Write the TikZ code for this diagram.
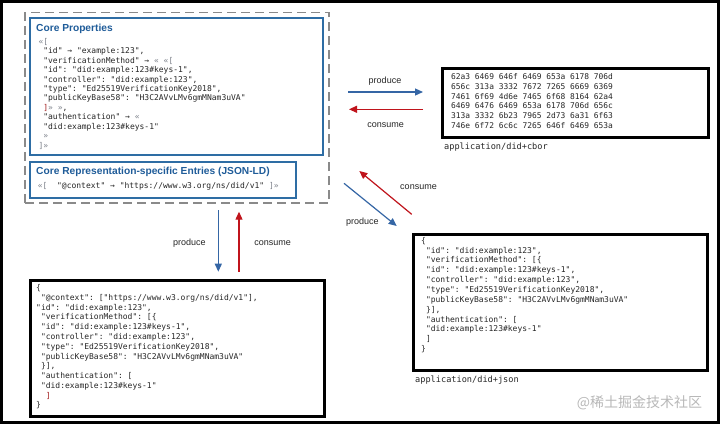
\documentclass[tikz,border=0pt]{standalone}
\usepackage{fontspec}
\setmainfont{Liberation Sans}
\setmonofont{DejaVu Sans Mono}
\newfontfamily\cjkfont{Noto Sans CJK SC}
\usetikzlibrary{arrows.meta}
\definecolor{titleblue}{HTML}{1F5C99}
\definecolor{boxblue}{HTML}{2E6DA4}
\definecolor{arrblue}{HTML}{3566A5}
\definecolor{arrred}{HTML}{C0141C}
\definecolor{codered}{HTML}{A01818}
\definecolor{codetext}{HTML}{262626}
\definecolor{guil}{HTML}{7A7F88}
\definecolor{dashgrey}{HTML}{8A8A8A}
\newcommand{\gq}[1]{\textcolor{guil}{#1}}
\newcommand{\rd}[1]{\textcolor{codered}{#1}}
\begin{document}
\begin{tikzpicture}[x=1pt,y=-1pt,
  bluebox/.style={draw=boxblue,line width=1.8pt,inner sep=0pt,anchor=north west},
  blackbox/.style={draw=black,line width=2.8pt,inner sep=0pt,anchor=north west},
  titletext/.style={anchor=base west,inner sep=0pt,text=titleblue,font=\fontsize{10.2}{12}\selectfont\bfseries},
  codeblock/.style={anchor=north west,inner sep=0pt,align=left,text=codetext},
  lbl/.style={inner sep=0pt,font=\fontsize{9}{11}\selectfont,text=black!85},
  mimelbl/.style={anchor=west,inner sep=0pt,font=\ttfamily\fontsize{8.6}{10}\selectfont,text=black!85},
  barrow/.style={draw=arrblue,line width=1.2pt,-{Triangle[length=8pt,width=7pt]}},
  rarrow/.style={draw=arrred,line width=1.2pt,-{Triangle[length=8pt,width=7pt]}}
]
\useasboundingbox (0,0) rectangle (720,424);
\fill[white] (0,0) rectangle (720,424);
\draw[line width=3pt] (1.5,1.5) rectangle (718.5,422.5);

% dashed group
\node[draw=dashgrey,line width=1.4pt,dash pattern=on 9pt off 5pt,inner sep=0pt,anchor=north west,
  minimum width=304pt,minimum height=190.6pt] (group) at (24.3,11.7) {};

% Core Properties box
\node[bluebox,minimum width=293pt,minimum height=137pt] (core) at (29.3,17.3) {};
\node[titletext] (coretitle) at (36,31.2) {Core Properties};
\node[codeblock,font=\ttfamily\fontsize{8}{9.48}\selectfont] (corecode) at (38.3,37.8) {%
\gq{«[}\\
\ "id" → "example:123",\\
\ "verificationMethod" → \gq{« «[}\\
\ "id": "did:example:123\#keys-1",\\
\ "controller": "did:example:123",\\
\ "type": "Ed25519VerificationKey2018",\\
\ "publicKeyBase58": "H3C2AVvLMv6gmMNam3uVA"\\
\ \rd{]}\gq{» »},\\
\ "authentication" → \gq{«}\\
\ "did:example:123\#keys-1"\\
\ \gq{»}\\
\gq{]»}};

% JSON-LD entries box
\node[bluebox,minimum width=265.7pt,minimum height=36.3pt] (ld) at (29.3,161) {};
\node[titletext] (ldtitle) at (36,174.4) {Core Representation-specific Entries (JSON-LD)};
\node[codeblock,anchor=west,font=\ttfamily\fontsize{8}{9.5}\selectfont] (ldcode) at (37.7,186.3)
  {\gq{«[}\ \ "@context" → "https://www.w3.org/ns/did/v1"\ \gq{]»}};

% CBOR box
\node[blackbox,minimum width=265.7pt,minimum height=68.7pt] (cbor) at (441,67.3) {};
\node[codeblock,font=\ttfamily\fontsize{7.9}{9.7}\selectfont] (cborcode) at (451,73.6) {%
62a3 6469 646f 6469 653a 6178 706d\\
656c 313a 3332 7672 7265 6669 6369\\
7461 6f69 4d6e 7465 6f68 8164 62a4\\
6469 6476 6469 653a 6178 706d 656c\\
313a 3332 6b23 7965 2d73 6a31 6f63\\
746e 6f72 6c6c 7265 646f 6469 653a};
\node[mimelbl] (cbormime) at (444,147.3) {application/did+cbor};

% JSON box
\node[blackbox,minimum width=294.3pt,minimum height=136.6pt] (json) at (411.7,232.7) {};
\node[codeblock,font=\ttfamily\fontsize{8}{9.85}\selectfont] (jsoncode) at (421,237) {%
\{\\
\ "id": "did:example:123",\\
\ "verificationMethod": [\{\\
\ "id": "did:example:123\#keys-1",\\
\ "controller": "did:example:123",\\
\ "type": "Ed25519VerificationKey2018",\\
\ "publicKeyBase58": "H3C2AVvLMv6gmMNam3uVA"\\
\ \}],\\
\ "authentication": [\\
\ "did:example:123\#keys-1"\\
\ ]\\
\}};
\node[mimelbl] (jsonmime) at (415,380) {application/did+json};

% JSON-LD box
\node[blackbox,minimum width=293.7pt,minimum height=136pt] (jsonld) at (29,279) {};
\node[codeblock,font=\ttfamily\fontsize{8}{9.78}\selectfont] (jsonldcode) at (36,284.3) {%
\{\\
\ "@context": ["https://www.w3.org/ns/did/v1"],\\
"id": "did:example:123",\\
\ "verificationMethod": [\{\\
\ "id": "did:example:123\#keys-1",\\
\ "controller": "did:example:123",\\
\ "type": "Ed25519VerificationKey2018",\\
\ "publicKeyBase58": "H3C2AVvLMv6gmMNam3uVA"\\
\ \}],\\
\ "authentication": [\\
\ "did:example:123\#keys-1"\\
\ \ \rd{]}\\
\}};

% arrow end points
\coordinate (p1s) at (348,92);   \coordinate (p1e) at (423,92);
\coordinate (c1s) at (423,109.3); \coordinate (c1e) at (349,109.3);
\coordinate (p2s) at (344,183.3); \coordinate (p2e) at (396.7,226);
\coordinate (c2s) at (411.7,214.3); \coordinate (c2e) at (359.3,171);
\coordinate (p3s) at (218.3,210); \coordinate (p3e) at (218.3,271.7);
\coordinate (c3s) at (239,271.7); \coordinate (c3e) at (239,211.7);

\draw[barrow] (p1s) -- (p1e);
\draw[rarrow] (c1s) -- (c1e);
\draw[barrow] (p2s) -- (p2e);
\draw[rarrow] (c2s) -- (c2e);
\draw[barrow] (p3s) -- (p3e);
\draw[rarrow] (c3s) -- (c3e);

\node[lbl] (prod1) at (385,81) {produce};
\node[lbl] (cons1) at (385.7,124.7) {consume};
\node[lbl] (cons2) at (418.5,187.3) {consume};
\node[lbl] (prod2) at (362.3,222) {produce};
\node[lbl] (prod3) at (189.3,243.3) {produce};
\node[lbl] (cons3) at (272.7,242.7) {consume};

% watermark
\node[inner sep=0pt,text=black!28,font=\cjkfont\fontsize{14}{16}\selectfont] (wm) at (639.5,403) {@稀土掘金技术社区};
\end{tikzpicture}
\end{document}
